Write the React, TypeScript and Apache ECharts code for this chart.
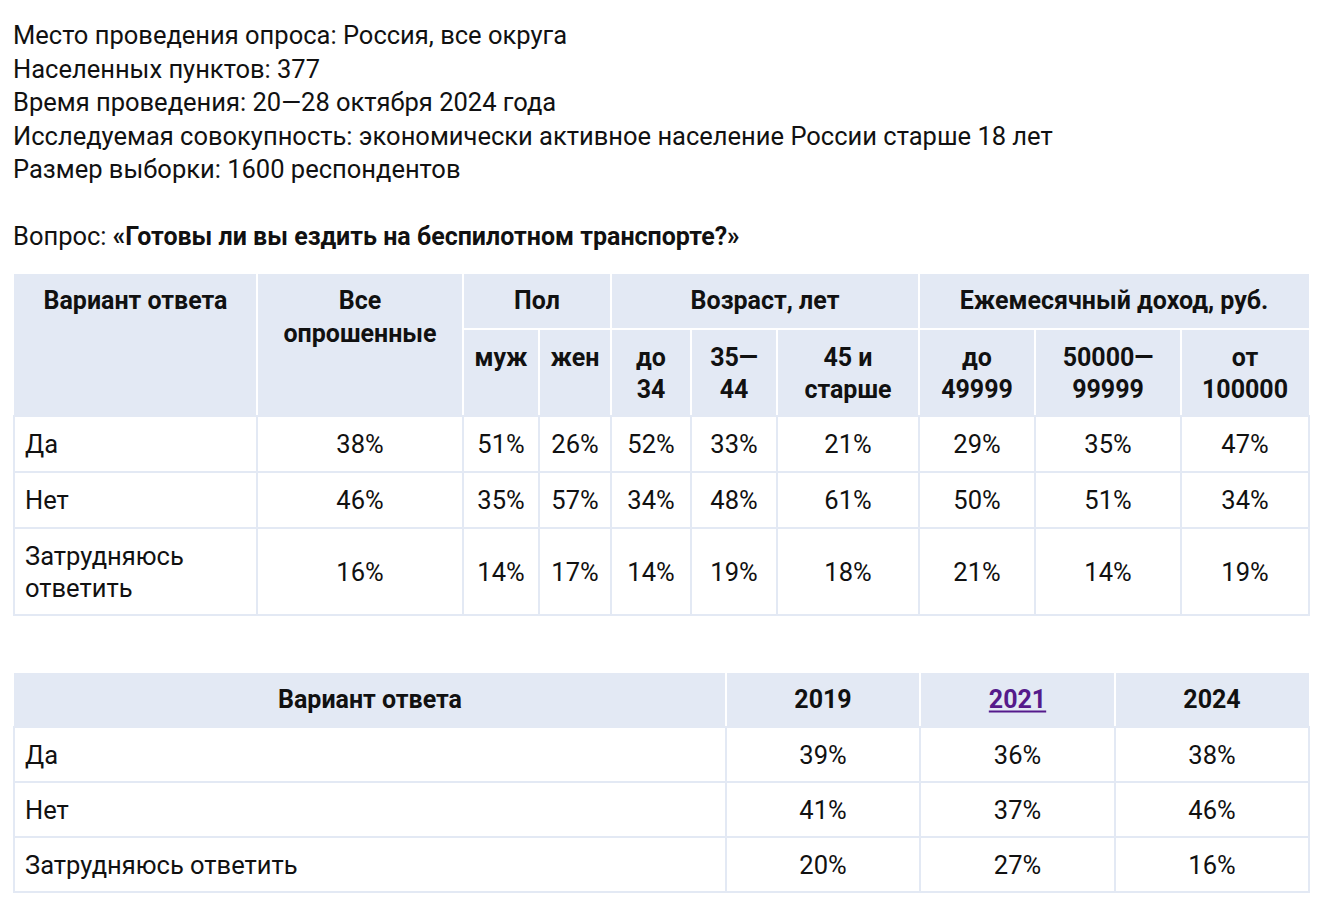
import React, { useEffect, useRef } from "react";
import * as echarts from "echarts";

// ---------- data ----------
const infoLines = [
  "Место проведения опроса: Россия, все округа",
  "Населенных пунктов: 377",
  "Время проведения: 20—28 октября 2024 года",
  "Исследуемая совокупность: экономически активное население России старше 18 лет",
  "Размер выборки: 1600 респондентов",
];
const questionLabel = "Вопрос: ";
const questionText = "«Готовы ли вы ездить на беспилотном транспорте?»";

const answerHeader = "Вариант ответа";
const allHeader = "Все\nопрошенные";
const groupHeaders = ["Пол", "Возраст, лет", "Ежемесячный доход, руб."];
const groupSpans = [2, 3, 3];
const subHeaders = ["муж", "жен", "до\n34", "35—\n44", "45 и\nстарше", "до\n49999", "50000—\n99999", "от\n100000"];
const answers = ["Да", "Нет", "Затрудняюсь\nответить"];
const allRespondents = [38, 46, 16];
const byGroupYes = [51, 26, 52, 33, 21, 29, 35, 47];
const byGroupNo = [35, 57, 34, 48, 61, 50, 51, 34];
const byGroupHard = [14, 17, 14, 19, 18, 21, 14, 19];
const byGroup = [byGroupYes, byGroupNo, byGroupHard];

const years = ["2019", "2021", "2024"];
const linkedYear = "2021";
const yearAnswers = ["Да", "Нет", "Затрудняюсь ответить"];
const yesByYear = [39, 36, 38];
const noByYear = [41, 37, 46];
const hardByYear = [20, 27, 16];
const byYear = [yesByYear, noByYear, hardByYear];

// ---------- layout / style ----------
const FONT = "Roboto, 'Noto Sans', sans-serif";
const FS = 25.5;
const FS_BOLD = 25;
const TEXT = "#111111";
const HEAD_BG = "#e3e9f4";
const LINE = "#e3e9f4";
const LINK = "#551a8b";

const t1Cols = [14, 257, 463, 539, 611, 691, 777, 919, 1035, 1181, 1309];
const t1HeadRows = [274, 329, 415.5];
const t1BodyRows = [416, 472, 528, 615];

const t2Cols = [14, 726, 920, 1115, 1309];
const t2HeadRows = [673, 726];
const t2BodyRows = [727, 782, 837, 892];

function measure(text: string, weight: string, size: number) {
  const c = document.createElement("canvas").getContext("2d");
  if (!c) return text.length * 13;
  c.font = `${weight} ${size}px Roboto`;
  return c.measureText(text).width;
}

function txt(x: number, y: number, text: string, opts: any = {}) {
  return {
    type: "text",
    x,
    y,
    silent: true,
    style: {
      text,
      fontFamily: FONT,
      fontSize: opts.bold ? FS_BOLD : FS,
      fontWeight: opts.bold ? "bold" : "normal",
      fill: opts.fill || TEXT,
      align: opts.align || "center",
      verticalAlign: opts.va || "middle",
      lineHeight: opts.lh || 32,
    },
  };
}

function headCell(cols: number[], rows: number[], c0: number, c1: number, r0: number, r1: number) {
  const x0 = cols[c0] + (c0 > 0 ? 1 : 0);
  const x1 = cols[c1] - (c1 < cols.length - 1 ? 1 : 0);
  const y0 = rows[r0] + (r0 > 0 ? 1 : 0);
  const y1 = rows[r1] - (r1 < rows.length - 1 ? 1 : 0);
  return {
    type: "rect",
    silent: true,
    shape: { x: x0, y: y0, width: x1 - x0, height: y1 - y0 },
    style: { fill: HEAD_BG },
  };
}

function bodyGrid(cols: number[], rows: number[]) {
  const els: any[] = [];
  const left = cols[0];
  const right = cols[cols.length - 1];
  rows.forEach((y) => {
    els.push({
      type: "line",
      silent: true,
      shape: { x1: left - 1, y1: y, x2: right + 1, y2: y },
      style: { stroke: LINE, lineWidth: 2 },
    });
  });
  cols.forEach((x) => {
    els.push({
      type: "line",
      silent: true,
      shape: { x1: x, y1: rows[0], x2: x, y2: rows[rows.length - 1] },
      style: { stroke: LINE, lineWidth: 2 },
    });
  });
  return els;
}

function buildElements() {
  const els: any[] = [];
  els.push({ type: "rect", silent: true, shape: { x: 0, y: 0, width: 1326, height: 912 }, style: { fill: "#ffffff" } });

  infoLines.forEach((line, i) => {
    els.push(txt(13, 35 + i * 33.5, line, { align: "left" }));
  });
  els.push({
    type: "text",
    x: 13,
    y: 236,
    silent: true,
    style: {
      text: `{n|${questionLabel}}{b|${questionText}}`,
      verticalAlign: "middle",
      align: "left",
      rich: {
        n: { fontFamily: FONT, fontSize: FS, fontWeight: "normal", fill: TEXT },
        b: { fontFamily: FONT, fontSize: FS_BOLD, fontWeight: "bold", fill: TEXT },
      },
    },
  });

  // ---------- table 1 ----------
  const nc = t1Cols.length - 1;
  const mid = (a: number, b: number) => (a + b) / 2;
  els.push(headCell(t1Cols, t1HeadRows, 0, 1, 0, 2));
  els.push(headCell(t1Cols, t1HeadRows, 1, 2, 0, 2));
  let c = 2;
  groupHeaders.forEach((g, gi) => {
    els.push(headCell(t1Cols, t1HeadRows, c, c + groupSpans[gi], 0, 1));
    c += groupSpans[gi];
  });
  for (let i = 2; i < nc; i++) els.push(headCell(t1Cols, t1HeadRows, i, i + 1, 1, 2));

  els.push(...bodyGrid(t1Cols, t1BodyRows));

  const top1 = t1HeadRows[0] + 10;
  els.push(txt(mid(t1Cols[0], t1Cols[1]), top1, answerHeader, { bold: true, va: "top", lh: 33 }));
  els.push(txt(mid(t1Cols[1], t1Cols[2]), top1, allHeader, { bold: true, va: "top", lh: 33 }));
  c = 2;
  groupHeaders.forEach((g, gi) => {
    els.push(txt(mid(t1Cols[c], t1Cols[c + groupSpans[gi]]), top1, g, { bold: true, va: "top", lh: 33 }));
    c += groupSpans[gi];
  });
  const top2 = t1HeadRows[1] + 12;
  subHeaders.forEach((s, i) => {
    els.push(txt(mid(t1Cols[i + 2], t1Cols[i + 3]), top2, s, { bold: true, va: "top", lh: 32 }));
  });

  answers.forEach((a, r) => {
    const yc = mid(t1BodyRows[r], t1BodyRows[r + 1]);
    els.push(txt(t1Cols[0] + 11, yc, a, { align: "left" }));
    els.push(txt(mid(t1Cols[1], t1Cols[2]), yc, `${allRespondents[r]}%`));
    byGroup[r].forEach((v, i) => {
      els.push(txt(mid(t1Cols[i + 2], t1Cols[i + 3]), yc, `${v}%`));
    });
  });

  // ---------- table 2 ----------
  for (let i = 0; i < t2Cols.length - 1; i++) els.push(headCell(t2Cols, t2HeadRows, i, i + 1, 0, 1));
  els.push(...bodyGrid(t2Cols, t2BodyRows));
  const hy = mid(t2HeadRows[0], t2HeadRows[1]);
  els.push(txt(mid(t2Cols[0], t2Cols[1]), hy, answerHeader, { bold: true }));
  years.forEach((yr, i) => {
    const cx = mid(t2Cols[i + 1], t2Cols[i + 2]);
    const isLink = yr === linkedYear;
    els.push(txt(cx, hy, yr, { bold: true, fill: isLink ? LINK : TEXT }));
    if (isLink) {
      const w = measure(yr, "bold", FS_BOLD);
      els.push({
        type: "line",
        silent: true,
        shape: { x1: cx - w / 2, y1: hy + 12, x2: cx + w / 2, y2: hy + 12 },
        style: { stroke: LINK, lineWidth: 2 },
      });
    }
  });
  yearAnswers.forEach((a, r) => {
    const yc = mid(t2BodyRows[r], t2BodyRows[r + 1]);
    els.push(txt(t2Cols[0] + 11, yc, a, { align: "left" }));
    byYear[r].forEach((v, i) => {
      els.push(txt(mid(t2Cols[i + 1], t2Cols[i + 2]), yc, `${v}%`));
    });
  });

  return els;
}

export default function App() {
  const ref = useRef<HTMLDivElement>(null);
  useEffect(() => {
    if (!ref.current) return;
    const chart = echarts.init(ref.current, undefined, { renderer: "svg" });
    chart.setOption({
      animation: false,
      backgroundColor: "#ffffff",
      graphic: { elements: buildElements() },
    });
    return () => chart.dispose();
  }, []);
  return (
    <div
      ref={ref}
      style={{ position: "absolute", left: 0, top: 0, width: 1326, height: 912, background: "#fff" }}
    />
  );
}
